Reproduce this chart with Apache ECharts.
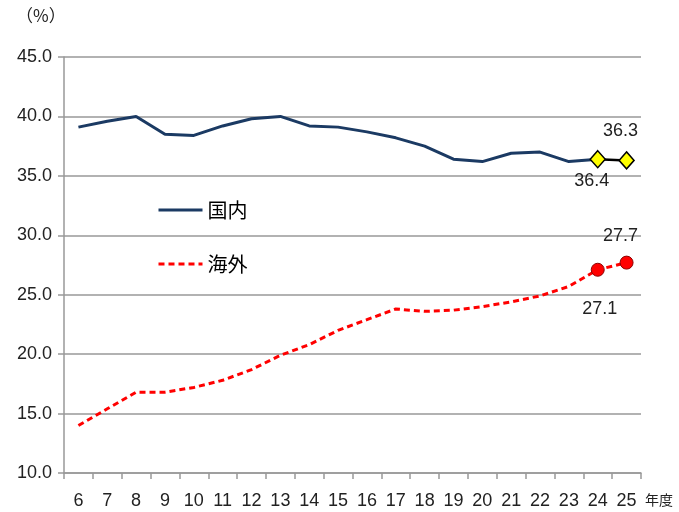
<!DOCTYPE html>
<html><head><meta charset="utf-8">
<script src="https://cdn.jsdelivr.net/npm/echarts@6/dist/echarts.min.js"></script>
<style>html,body{margin:0;padding:0;background:#fff}#c{width:679px;height:512px}</style>
</head><body><div id="c"></div>
<script>
const categories = ['6','7','8','9','10','11','12','13','14','15','16','17','18','19','20','21','22','23','24','25'];
const domestic = [39.1,39.6,40.0,38.5,38.4,39.2,39.8,40.0,39.2,39.1,38.7,38.2,37.5,36.4,36.2,36.9,37.0,36.2,36.4,36.3];
const overseas = [14.0,15.4,16.8,16.8,17.2,17.8,18.7,19.9,20.8,22.0,22.9,23.8,23.6,23.7,24.0,24.4,24.9,25.7,27.1,27.7];
const yTicks = {min:10, max:45, interval:5};

const n = categories.length;
const domMain = domestic.map((v,i)=> i<=n-2 ? v : null);
const domTail = domestic.map((v,i)=> i>=n-2 ? v : null);
const ovTail = overseas.map((v,i)=> i>=n-2 ? v : null);
const font = "'Liberation Sans Narrow','Liberation Sans',Arial,sans-serif";

const chart = echarts.init(document.getElementById('c'));
chart.setOption({
  animation:false,
  textStyle:{fontFamily:font},
  grid:{left:64,right:38,top:57,bottom:39},
  legend:{
    data:['国内','海外'], orient:'vertical', left:152, top:195, itemGap:34,
    itemWidth:44, itemHeight:14,
    itemStyle:{opacity:0},
    lineStyle:{width:3},
    textStyle:{fontSize:20,color:'#000',fontFamily:"'Noto Sans CJK JP',sans-serif"}
  },
  graphic:[
    {type:'text',left:16,top:7,style:{text:'（%）',font:"17px 'Noto Sans CJK JP',sans-serif",fill:'#222'}},
    {type:'text',left:645,top:493,style:{text:'年度',font:"14px 'Noto Sans CJK JP',sans-serif",fill:'#222'}}
  ],
  xAxis:{
    type:'category', data:categories, boundaryGap:true,
    axisLine:{lineStyle:{color:'#999',width:1.5}},
    axisTick:{show:true,length:6,lineStyle:{color:'#999',width:1.5}},
    axisLabel:{color:'#222',fontSize:18,margin:19}
  },
  yAxis:{
    type:'value', min:yTicks.min, max:yTicks.max, interval:yTicks.interval,
    axisLine:{show:true,lineStyle:{color:'#999',width:1.5}},
    axisTick:{show:true,length:6,lineStyle:{color:'#999',width:1.5}},
    splitLine:{lineStyle:{color:'#999',width:1.5}},
    axisLabel:{color:'#222',fontSize:18,margin:12,formatter:v=>v.toFixed(1)}
  },
  series:[
    {name:'国内',type:'line',data:domMain,symbol:'none',
     lineStyle:{color:'#1b3a63',width:3},itemStyle:{color:'#1b3a63'},z:2},
    {name:'海外',type:'line',data:overseas,symbol:'none',
     lineStyle:{color:'#ff0000',width:3,type:[6,4]},itemStyle:{color:'#ff0000'},z:2},
    {name:'domTail',type:'line',data:domTail,symbol:'diamond',symbolSize:[15,17],
     lineStyle:{color:'#000',width:2.5},
     itemStyle:{color:'#ffff00',borderColor:'#000',borderWidth:1.5},z:3,
     label:{show:true,fontSize:18,color:'#222',
       formatter:p=>p.value.toFixed(1),
       position:'top'},
     labelLayout:function(p){ return p.dataIndex===n-2 ? {dx:-6,dy:45} : {dx:-6,dy:-6}; }
    },
    {name:'ovTail',type:'line',data:ovTail,symbol:'circle',symbolSize:13,
     lineStyle:{width:0,opacity:0},
     itemStyle:{color:'#ff0000',borderColor:'#8b0000',borderWidth:1},z:3,
     label:{show:true,fontSize:18,color:'#222',
       formatter:p=>p.value.toFixed(1),
       position:'top'},
     labelLayout:function(p){ return p.dataIndex===n-2 ? {dx:2,dy:60} : {dx:-6,dy:-6}; }
    }
  ]
});
</script></body></html>
